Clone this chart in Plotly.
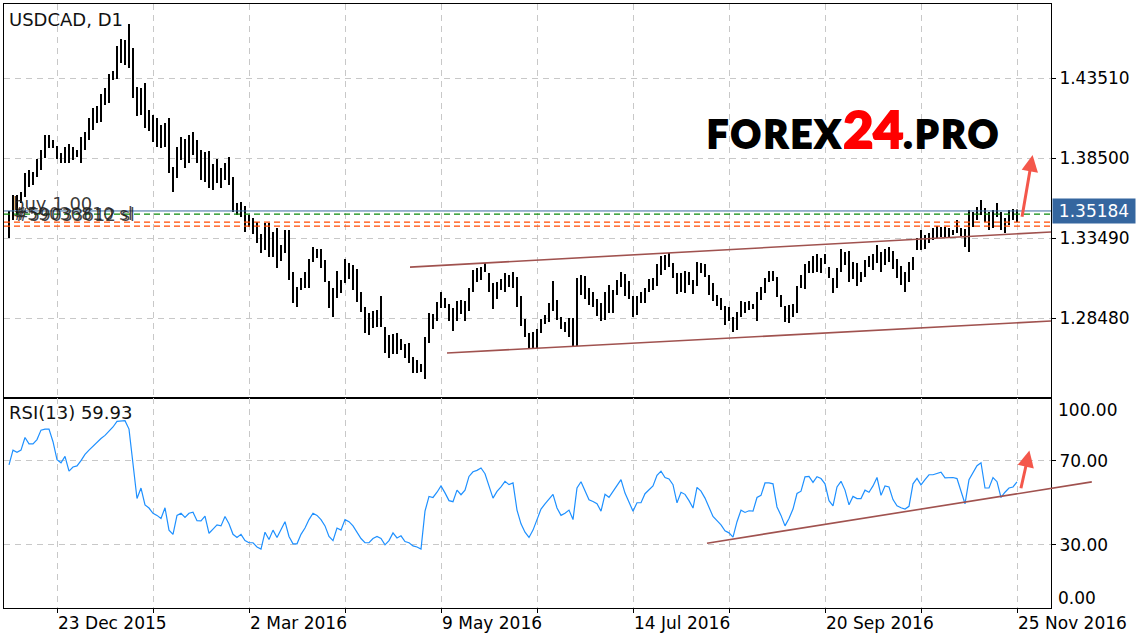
import plotly.graph_objects as go

# ---------------- data ----------------
high = [1.3518, 1.3618, 1.3618, 1.3637, 1.3756, 1.3775, 1.3762, 1.3844, 1.3900, 1.3994,
        1.3994, 1.3963, 1.3925, 1.3881, 1.3919, 1.3938, 1.3919, 1.3900, 1.3982, 1.4013,
        1.4101, 1.4163, 1.4176, 1.4251, 1.4288, 1.4376, 1.4395, 1.4551, 1.4595, 1.4589,
        1.4689, 1.4539, 1.4295, 1.4288, 1.4320, 1.4151, 1.4119, 1.4101, 1.4057, 1.4069,
        1.4101, 1.3794, 1.3919, 1.3982, 1.3969, 1.3994, 1.4013, 1.3963, 1.3900, 1.3888,
        1.3894, 1.3812, 1.3844, 1.3787, 1.3819, 1.3856, 1.3731, 1.3568, 1.3575, 1.3549,
        1.3493, 1.3474, 1.3449, 1.3374, 1.3443, 1.3443, 1.3387, 1.3412, 1.3305, 1.3399,
        1.3399, 1.3136, 1.3042, 1.3099, 1.3136, 1.3218, 1.3293, 1.3280, 1.3280, 1.3211,
        1.3080, 1.3036, 1.3142, 1.3086, 1.3218, 1.3192, 1.3180, 1.3155, 1.3011, 1.2917,
        1.2879, 1.2892, 1.2898, 1.2986, 1.2792, 1.2742, 1.2748, 1.2754, 1.2717, 1.2685,
        1.2692, 1.2604, 1.2585, 1.2560, 1.2729, 1.2879, 1.2873, 1.2948, 1.3011, 1.2973,
        1.2936, 1.2911, 1.2955, 1.2961, 1.2955, 1.3036, 1.3149, 1.3161, 1.3167, 1.3192,
        1.3130, 1.3067, 1.3074, 1.3092, 1.3130, 1.3117, 1.3136, 1.3105, 1.2986, 1.2842,
        1.2754, 1.2761, 1.2779, 1.2842, 1.2867, 1.2942, 1.3080, 1.2961, 1.2854, 1.2823,
        1.2848, 1.2848, 1.3099, 1.3117, 1.3111, 1.3036, 1.3011, 1.2967, 1.2942, 1.3011,
        1.3055, 1.3023, 1.3086, 1.3136, 1.3124, 1.3080, 1.2986, 1.2986, 1.3011, 1.3036,
        1.3092, 1.3099, 1.3186, 1.3236, 1.3243, 1.3255, 1.3192, 1.3130, 1.3130, 1.3142,
        1.3136, 1.3086, 1.3199, 1.3192, 1.3186, 1.3117, 1.3067, 1.2992, 1.2973, 1.2923,
        1.2917, 1.2854, 1.2886, 1.2955, 1.2948, 1.2955, 1.2936, 1.3011, 1.3042, 1.3099,
        1.3142, 1.3142, 1.3105, 1.2992, 1.2923, 1.2930, 1.2936, 1.3048, 1.3117, 1.3186,
        1.3205, 1.3236, 1.3249, 1.3224, 1.3249, 1.3167, 1.3099, 1.3161, 1.3280, 1.3261,
        1.3268, 1.3199, 1.3192, 1.3136, 1.3211, 1.3236, 1.3249, 1.3305, 1.3261, 1.3280,
        1.3293, 1.3268, 1.3218, 1.3174, 1.3136, 1.3199, 1.3230, 1.3349, 1.3399, 1.3368,
        1.3380, 1.3412, 1.3424, 1.3418, 1.3418, 1.3412, 1.3399, 1.3462, 1.3412, 1.3405,
        1.3524, 1.3512, 1.3543, 1.3587, 1.3537, 1.3512, 1.3524, 1.3568, 1.3512, 1.3474,
        1.3524, 1.3531, 1.3528]

low = [1.3349, 1.3462, 1.3493, 1.3568, 1.3606, 1.3669, 1.3681, 1.3731, 1.3775, 1.3850,
       1.3913, 1.3913, 1.3844, 1.3819, 1.3819, 1.3819, 1.3838, 1.3856, 1.3819, 1.3900,
       1.3963, 1.4025, 1.4069, 1.4075, 1.4182, 1.4194, 1.4339, 1.4345, 1.4445, 1.4432,
       1.4414, 1.4226, 1.4113, 1.4119, 1.4038, 1.4019, 1.3950, 1.3919, 1.3913, 1.3919,
       1.3756, 1.3637, 1.3725, 1.3838, 1.3787, 1.3819, 1.3869, 1.3819, 1.3712, 1.3700,
       1.3662, 1.3650, 1.3694, 1.3662, 1.3712, 1.3681, 1.3512, 1.3493, 1.3481, 1.3387,
       1.3418, 1.3374, 1.3318, 1.3255, 1.3274, 1.3230, 1.3230, 1.3161, 1.3205, 1.3255,
       1.3086, 1.2942, 1.2917, 1.3023, 1.3036, 1.3036, 1.3199, 1.3224, 1.3161, 1.3074,
       1.2911, 1.2854, 1.2973, 1.3005, 1.3067, 1.3092, 1.3023, 1.2948, 1.2886, 1.2754,
       1.2742, 1.2786, 1.2792, 1.2792, 1.2629, 1.2598, 1.2623, 1.2623, 1.2648, 1.2598,
       1.2566, 1.2504, 1.2504, 1.2510, 1.2466, 1.2692, 1.2779, 1.2829, 1.2911, 1.2911,
       1.2829, 1.2767, 1.2829, 1.2873, 1.2829, 1.2892, 1.3011, 1.3074, 1.3086, 1.3136,
       1.3011, 1.2904, 1.2967, 1.3023, 1.3011, 1.3042, 1.3036, 1.2917, 1.2798, 1.2729,
       1.2660, 1.2660, 1.2660, 1.2754, 1.2811, 1.2823, 1.2892, 1.2836, 1.2779, 1.2761,
       1.2729, 1.2673, 1.2673, 1.2992, 1.2967, 1.2930, 1.2917, 1.2861, 1.2829, 1.2836,
       1.2879, 1.2879, 1.2992, 1.3042, 1.2986, 1.2967, 1.2854, 1.2867, 1.2942, 1.2942,
       1.3011, 1.3023, 1.3048, 1.3117, 1.3149, 1.3167, 1.3099, 1.2998, 1.3011, 1.3005,
       1.3055, 1.2998, 1.3048, 1.3130, 1.3105, 1.2992, 1.2955, 1.2923, 1.2898, 1.2804,
       1.2829, 1.2761, 1.2773, 1.2854, 1.2879, 1.2898, 1.2904, 1.2829, 1.2961, 1.3005,
       1.3074, 1.3080, 1.2980, 1.2917, 1.2823, 1.2817, 1.2854, 1.2879, 1.3036, 1.3030,
       1.3130, 1.3130, 1.3136, 1.3130, 1.3186, 1.3099, 1.3005, 1.3036, 1.3136, 1.3180,
       1.3074, 1.3092, 1.3048, 1.3074, 1.3105, 1.3167, 1.3149, 1.3192, 1.3136, 1.3180,
       1.3199, 1.3155, 1.3099, 1.3055, 1.3011, 1.3074, 1.3149, 1.3274, 1.3274, 1.3280,
       1.3318, 1.3337, 1.3349, 1.3355, 1.3355, 1.3355, 1.3368, 1.3380, 1.3362, 1.3293,
       1.3261, 1.3418, 1.3462, 1.3493, 1.3449, 1.3399, 1.3412, 1.3481, 1.3399, 1.3380,
       1.3431, 1.3462, 1.3449]

rsi = [68, 75, 74, 75, 81, 78, 78, 80, 84.5, 85,
       85, 79, 70.5, 69, 72, 65, 67, 67.5, 70, 73,
       75, 77, 79, 80.5, 82, 84, 86, 88.7, 89, 89,
       85, 67, 52, 57, 49, 47.5, 45, 44, 42.5, 47.6,
       37, 35, 44, 45, 43, 45, 45.5, 41.5, 41.4, 43.6,
       35.5, 37.5, 39.5, 39, 43.5, 40, 35, 33.5, 35, 32,
       31, 31, 29, 28, 36, 32.5, 37, 33.5, 37, 41,
       34, 30.5, 30.5, 35, 38, 42, 45, 44, 42, 39,
       34, 32, 38, 37, 42, 41, 39, 36, 33, 31,
       31, 33, 34, 33, 30, 32, 35.7, 33.3, 34.3, 31.6,
       31, 29.5, 29, 28, 46, 53, 52.5, 55, 58, 54.7,
       51, 50.5, 56, 53.8, 56, 62.5, 64.7, 65.4, 66.5, 63.8,
       57.5, 52.2, 55.4, 57.5, 60.2, 58.6, 59.4, 46.5, 40, 36,
       33.5, 37, 42, 47, 49.5, 51.5, 54, 47.5, 44, 45,
       46.5, 42, 57, 60, 56, 51.4, 50.6, 49.5, 46, 54,
       52.6, 55.4, 58, 61, 54.6, 50, 46, 50, 50, 54.3,
       56, 58, 63, 65, 62, 61.3, 58.6, 50, 55, 54,
       51, 47.5, 57.3, 55.5, 52.2, 47.5, 43.5, 41.5, 39.5, 36.7,
       35.7, 33.7, 41, 46.5, 45.4, 46.2, 46, 52.5, 53.5, 59.4,
       59.4, 59, 48, 44, 39, 42.5, 47, 54.4, 55.5, 62.3,
       62.5, 59.7, 62.4, 61.5, 59, 51, 48.5, 57.5, 60.2, 56,
       49, 53, 52, 52, 56, 55, 58, 62, 53.5, 58,
       57.5, 51.5, 48.5, 47.6, 47, 48.3, 59, 61.6, 58.5, 61,
       63.3, 63.3, 64, 64.5, 61.8, 61.8, 62, 61.5, 56, 49.5,
       61, 64, 67.6, 69, 57, 57, 62, 60, 52.5, 55,
       57, 57.5, 59.93]

bar_no = list(range(1, len(high) + 1))

grid_bars = [13, 37, 61, 85, 109, 133, 157, 181, 205, 229, 253]
grid_text = ["23 Dec 2015", "", "2 Mar 2016", "", "9 May 2016", "", "14 Jul 2016", "",
             "20 Sep 2016", "", "25 Nov 2016"]

price_ticks = [1.28480, 1.33490, 1.38500, 1.43510]
price_labels = ["1.28480", "1.33490", "1.38500", "1.43510"]
rsi_ticks = [70, 30]
rsi_labels = ["70.00", "30.00"]

last_price = 1.35184
rsi_last = 59.93
tp_level = 1.3499
sl_levels = [1.3449, 1.3424]

upper_x, upper_y = [101.25, 261.5], [1.3167, 1.3387]
lower_x, lower_y = [110.5, 261.5], [1.2629, 1.2829]
rsi_trend_x, rsi_trend_y = [175.5, 271.7], [30.8, 59.9]
arrow_price_tail, arrow_price_tip = (254.2, 1.3472), (256.9, 1.3869)
arrow_rsi_tail, arrow_rsi_tip = (253.9, 56.2), (256.1, 74.8)

X_RANGE = [-0.25, 261.5]
PRICE_RANGE = [1.23502, 1.48145]
RSI_RANGE = [0, 100]

FONT = "DejaVu Sans"
GRID = "#c8c8c8"
TREND = "#a0524f"
ARROW = "#f4574b"

# ---------------- figure ----------------
fig = go.Figure()

fig.add_trace(go.Bar(
    x=bar_no, base=low, y=[h - l for h, l in zip(high, low)],
    width=0.42, marker=dict(color="black", line=dict(width=0)),
    xaxis="x", yaxis="y", hoverinfo="skip"))

fig.add_trace(go.Scatter(x=upper_x, y=upper_y, mode="lines",
                         line=dict(color=TREND, width=1.6), xaxis="x", yaxis="y"))
fig.add_trace(go.Scatter(x=lower_x, y=lower_y, mode="lines",
                         line=dict(color=TREND, width=1.6), xaxis="x", yaxis="y"))

fig.add_trace(go.Scatter(x=bar_no, y=rsi, mode="lines",
                         line=dict(color="#1e90ff", width=1.2), xaxis="x2", yaxis="y2"))

split = 0.3485

axis_common = dict(showline=True, mirror=True, linecolor="black", linewidth=1,
                   zeroline=False, gridcolor=GRID, griddash="6px,5px", gridwidth=1)

fig.update_layout(
    width=1136, height=640,
    margin=dict(l=4, r=85, t=4, b=32),
    paper_bgcolor="white", plot_bgcolor="white",
    showlegend=False, barmode="overlay",
    font=dict(family=FONT, size=17, color="black"),
    xaxis=dict(domain=[0, 1], anchor="y", range=X_RANGE, matches="x2",
               tickvals=grid_bars, showticklabels=False, ticks="", showgrid=True,
               **axis_common),
    yaxis=dict(domain=[split, 1], anchor="x", side="right", range=PRICE_RANGE,
               tickvals=price_ticks, ticktext=price_labels, ticks="outside",
               ticklen=4, tickcolor="black", showgrid=True, automargin=False,
               **axis_common),
    xaxis2=dict(domain=[0, 1], anchor="y2", range=X_RANGE,
                tickvals=grid_bars, ticktext=grid_text, ticks="outside", ticklen=4,
                tickcolor="black", ticklabelposition="outside right", showgrid=True,
                automargin=False, **axis_common),
    yaxis2=dict(domain=[0, split], anchor="x2", side="right", range=RSI_RANGE,
                tickvals=rsi_ticks, ticktext=rsi_labels, ticks="outside", ticklen=4,
                tickcolor="black", showgrid=True, automargin=False, **axis_common),
)

shapes = [
    dict(type="line", xref="x domain", x0=0, x1=1, yref="y", y0=last_price, y1=last_price,
         line=dict(color="#3a6a9e", width=1)),
    dict(type="line", xref="x domain", x0=0, x1=1, yref="y", y0=tp_level, y1=tp_level,
         line=dict(color="#0a8a0a", width=1.3, dash="6px,4px")),
]
for lv in sl_levels:
    shapes.append(dict(type="line", xref="x domain", x0=0, x1=1, yref="y", y0=lv, y1=lv,
                       line=dict(color="#ff4a00", width=1.3, dash="6px,4px")))

# RSI trend line extends past the plot edge: place it through the axis domain
span = X_RANGE[1] - X_RANGE[0]
shapes.append(dict(
    type="line", xref="x2 domain", yref="y2 domain",
    x0=(rsi_trend_x[0] - X_RANGE[0]) / span, x1=(rsi_trend_x[1] - X_RANGE[0]) / span,
    y0=rsi_trend_y[0] / 100, y1=rsi_trend_y[1] / 100,
    line=dict(color=TREND, width=1.6)))
fig.update_layout(shapes=shapes)

heavy = "stroke:black;stroke-width:2px;letter-spacing:3px"
annotations = [
    dict(text="USDCAD, D1", xref="paper", yref="paper", x=0, y=1, xanchor="left",
         yanchor="top", xshift=3, yshift=-3, showarrow=False,
         font=dict(size=18, color="#111111")),
    dict(text="RSI(13) %.2f" % rsi_last, xref="paper", yref="y2 domain", x=0, y=1,
         xanchor="left", yanchor="top", xshift=3, yshift=-2, showarrow=False,
         font=dict(size=18, color="#111111")),
    dict(text="buy 1.00", xref="x", yref="y", x=1.6, y=1.3565, xanchor="left",
         yanchor="middle", showarrow=False, font=dict(size=18, color="rgba(30,30,30,0.9)")),
    dict(text="#59036810 sl", xref="x", yref="y", x=1.6, y=1.3500, xanchor="left",
         yanchor="middle", showarrow=False, font=dict(size=17, color="rgba(30,30,30,0.85)")),
    dict(text="#59033612 sl", xref="x", yref="y", x=1.9, y=1.3491, xanchor="left",
         yanchor="middle", showarrow=False, font=dict(size=17, color="rgba(30,30,30,0.85)")),
    dict(text="%.5f" % last_price, xref="paper", yref="y", x=1, y=last_price,
         xanchor="left", yanchor="middle", xshift=1, showarrow=False,
         bgcolor="#35669f", font=dict(size=17, color="white"), width=78, height=20,
         borderpad=2),
    dict(text="100.00", xref="paper", yref="y2", x=1, y=94.3, xanchor="left",
         yanchor="middle", xshift=5, showarrow=False),
    dict(text="0.00", xref="paper", yref="y2", x=1, y=4.8, xanchor="left",
         yanchor="middle", xshift=5, showarrow=False),
    dict(text=("<span style='%s'>FOREX</span>" % heavy
               + "<span style='color:#ff0000;stroke:#ff0000;stroke-width:2px;"
                 "font-size:52px'>24</span>"
               + "<span style='%s'>.PRO</span>" % heavy),
         xref="paper", yref="paper", x=0.8115, y=0.795, xanchor="center",
         yanchor="middle", showarrow=False,
         font=dict(family="Lato", size=37, color="black", weight=900)),
    dict(text="", x=arrow_price_tip[0], y=arrow_price_tip[1], xref="x", yref="y",
         ax=arrow_price_tail[0], ay=arrow_price_tail[1], axref="x", ayref="y",
         showarrow=True, arrowhead=2, arrowsize=1.1, arrowwidth=3, arrowcolor=ARROW),
    dict(text="", x=arrow_rsi_tip[0], y=arrow_rsi_tip[1], xref="x2", yref="y2",
         ax=arrow_rsi_tail[0], ay=arrow_rsi_tail[1], axref="x2", ayref="y2",
         showarrow=True, arrowhead=2, arrowsize=1.1, arrowwidth=3, arrowcolor=ARROW),
]
fig.update_layout(annotations=annotations)

fig.write_html("out.html",
               config={"displayModeBar": False},
               post_script="document.body.style.margin='0';"
                           "document.body.style.overflow='hidden';")
